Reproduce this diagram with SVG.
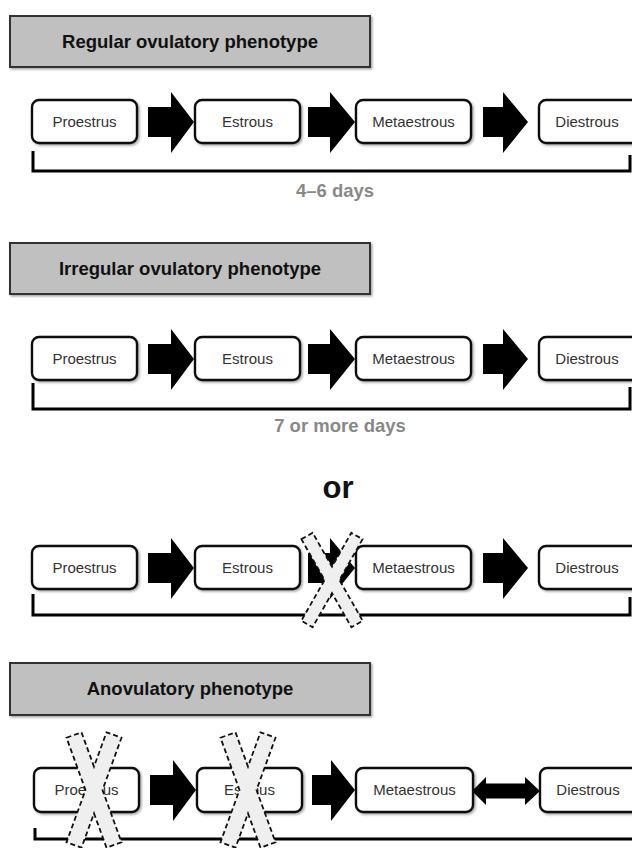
<svg xmlns="http://www.w3.org/2000/svg" width="632" height="848" viewBox="0 0 632 848">
<defs>
<filter id="sh" x="-10%" y="-20%" width="130%" height="150%">
<feDropShadow dx="1.5" dy="1.5" stdDeviation="1" flood-color="#000" flood-opacity="0.35"/>
</filter>
</defs>
<style>
.hdr{fill:#c0c0c0;stroke:#333;stroke-width:2}
.htx{font-family:"Liberation Sans",Arial,sans-serif;font-weight:bold;font-size:18.5px;fill:#111;text-anchor:middle}
.nd{fill:#fff;stroke:#111;stroke-width:2.4}
.ntx{font-family:"Liberation Sans",Arial,sans-serif;font-size:15px;fill:#333;text-anchor:middle}
.arr{fill:#000}
.br{fill:none;stroke:#000;stroke-width:3}
.lbl{font-family:"Liberation Sans",Arial,sans-serif;font-weight:bold;font-size:18.5px;fill:#888;text-anchor:middle}
.or{font-family:"Liberation Sans",Arial,sans-serif;font-weight:bold;font-size:31px;fill:#111;text-anchor:middle}
.x{fill:#efefef;stroke:#111;stroke-width:1.8;stroke-dasharray:5 3}
</style>
<rect width="632" height="848" fill="#fff"/>

<!-- headers -->
<g id="hdr-regular"><rect class="hdr" x="10" y="16" width="360" height="51" filter="url(#sh)"/><text class="htx" x="190" y="48">Regular ovulatory phenotype</text></g>
<g id="hdr-irregular"><rect class="hdr" x="10" y="243" width="360" height="51" filter="url(#sh)"/><text class="htx" x="190" y="275">Irregular ovulatory phenotype</text></g>
<g id="hdr-anov"><rect class="hdr" x="10" y="663" width="360" height="52" filter="url(#sh)"/><text class="htx" x="190" y="695">Anovulatory phenotype</text></g>

<!-- connectors -->
<g id="connectors">
<polygon class="arr" points="148,107 171,107 171,92 194,122 171,153 171,137 148,137"/>
<polygon class="arr" points="308,107 330,107 330,92 355,122 330,153 330,137 308,137"/>
<polygon class="arr" points="483,107 503,107 503,92 528,122 503,153 503,137 483,137"/>

<polygon class="arr" points="148,344 171,344 171,329 194,359 171,390 171,374 148,374"/>
<polygon class="arr" points="308,344 330,344 330,329 355,359 330,390 330,374 308,374"/>
<polygon class="arr" points="483,344 503,344 503,329 528,359 503,390 503,374 483,374"/>

<polygon class="arr" points="148,553 171,553 171,538 194,568 171,599 171,583 148,583"/>
<polygon class="arr" points="308,553 330,553 330,538 355,568 330,599 330,583 308,583"/>
<polygon class="arr" points="483,553 503,553 503,538 528,568 503,599 503,583 483,583"/>

<polygon class="arr" points="150,775 173,775 173,760 196,790 173,821 173,805 150,805"/>
<polygon class="arr" points="312,775 331,775 331,760 355,790 331,821 331,805 312,805"/>
<polygon class="arr" points="472,791 486,777 486,783.5 525,783.5 525,777 540,791 525,805 525,798.5 486,798.5 486,805"/>
</g>

<!-- row 1 -->
<g id="r1-proestrus"><rect class="nd" x="32" y="100" width="105" height="43" rx="7" filter="url(#sh)"/><text class="ntx" x="84.5" y="127">Proestrus</text></g>
<g id="r1-estrous"><rect class="nd" x="195" y="100" width="105" height="43" rx="7" filter="url(#sh)"/><text class="ntx" x="247.5" y="127">Estrous</text></g>
<g id="r1-metaestrous"><rect class="nd" x="356" y="100" width="115" height="43" rx="7" filter="url(#sh)"/><text class="ntx" x="413.5" y="127">Metaestrous</text></g>
<g id="r1-diestrous"><rect class="nd" x="539" y="100" width="110" height="43" rx="7" filter="url(#sh)"/><text class="ntx" x="587" y="127">Diestrous</text></g>

<!-- row 2 -->
<g id="r2-proestrus"><rect class="nd" x="32" y="337" width="105" height="43" rx="7" filter="url(#sh)"/><text class="ntx" x="84.5" y="364">Proestrus</text></g>
<g id="r2-estrous"><rect class="nd" x="195" y="337" width="105" height="43" rx="7" filter="url(#sh)"/><text class="ntx" x="247.5" y="364">Estrous</text></g>
<g id="r2-metaestrous"><rect class="nd" x="356" y="337" width="115" height="43" rx="7" filter="url(#sh)"/><text class="ntx" x="413.5" y="364">Metaestrous</text></g>
<g id="r2-diestrous"><rect class="nd" x="539" y="337" width="110" height="43" rx="7" filter="url(#sh)"/><text class="ntx" x="587" y="364">Diestrous</text></g>

<!-- row 3 -->
<g id="r3-proestrus"><rect class="nd" x="32" y="546" width="105" height="43" rx="7" filter="url(#sh)"/><text class="ntx" x="84.5" y="573">Proestrus</text></g>
<g id="r3-estrous"><rect class="nd" x="195" y="546" width="105" height="43" rx="7" filter="url(#sh)"/><text class="ntx" x="247.5" y="573">Estrous</text></g>
<g id="r3-metaestrous"><rect class="nd" x="356" y="546" width="115" height="43" rx="7" filter="url(#sh)"/><text class="ntx" x="413.5" y="573">Metaestrous</text></g>
<g id="r3-diestrous"><rect class="nd" x="539" y="546" width="110" height="43" rx="7" filter="url(#sh)"/><text class="ntx" x="587" y="573">Diestrous</text></g>

<!-- row 4 -->
<g id="r4-proestrus"><rect class="nd" x="34" y="768" width="105" height="44" rx="7" filter="url(#sh)"/><text class="ntx" x="86.5" y="795">Proestrus</text></g>
<g id="r4-estrous"><rect class="nd" x="197" y="768" width="105" height="44" rx="7" filter="url(#sh)"/><text class="ntx" x="249.5" y="795">Estrous</text></g>
<g id="r4-metaestrous"><rect class="nd" x="356" y="768" width="117" height="44" rx="7" filter="url(#sh)"/><text class="ntx" x="414.5" y="795">Metaestrous</text></g>
<g id="r4-diestrous"><rect class="nd" x="540" y="768" width="110" height="44" rx="7" filter="url(#sh)"/><text class="ntx" x="588" y="795">Diestrous</text></g>

<!-- brackets and labels -->
<g id="brackets">
<path class="br" d="M33,151 V171 H630 V155"/>
<path class="br" d="M33,383 V409 H630 V387"/>
<path class="br" d="M33,594 V615 H630 V597"/>
<path class="br" d="M35,828 V839 H632"/>
</g>
<text class="lbl" x="335" y="197">4–6 days</text>
<text class="lbl" x="340" y="432">7 or more days</text>
<text class="or" x="338" y="498">or</text>

<!-- crosses -->
<g id="crosses">
<polygon class="x" transform="translate(332,580)" points="-30.6,-40.8 -19.3,-47.2 0,-13.2 19.3,-47.2 30.6,-40.8 7.4,0 30.7,40.8 19.4,47.2 0,13.1 -19.4,47.2 -30.7,40.8 -7.4,0"/>
<polygon class="x" transform="translate(94,790)" points="-27.5,-52.3 -12.5,-57.7 0,-23.4 12.5,-57.7 27.5,-52.3 8.5,0 27.5,52.3 12.5,57.7 0,23.4 -12.5,57.7 -27.5,52.3 -8.5,0"/>
<polygon class="x" transform="translate(248,790)" points="-27.5,-52.3 -12.5,-57.7 0,-23.4 12.5,-57.7 27.5,-52.3 8.5,0 27.5,52.3 12.5,57.7 0,23.4 -12.5,57.7 -27.5,52.3 -8.5,0"/>
</g>
</svg>
